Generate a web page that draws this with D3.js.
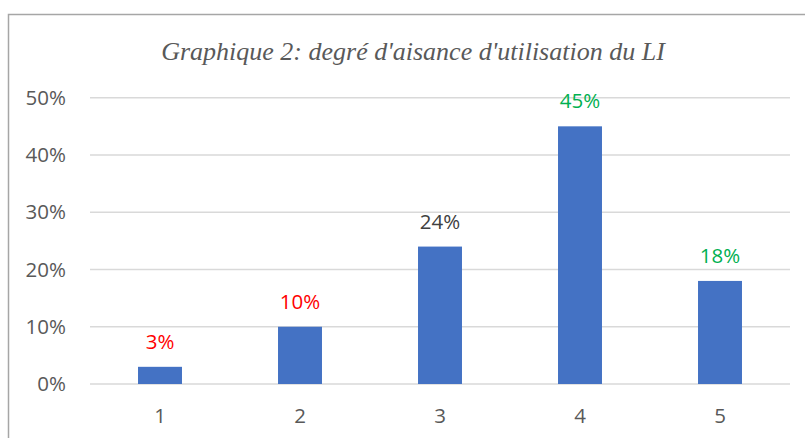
<!DOCTYPE html>
<html>
<head>
<meta charset="utf-8">
<script src="https://cdn.jsdelivr.net/npm/d3@7"></script>
<style>
  body { margin: 0; background: #fff; }
</style>
</head>
<body>
<div id="chart"></div>
<script>
var categories = ["1", "2", "3", "4", "5"];
var values = [0.03, 0.10, 0.24, 0.45, 0.18];
var labelColors = ["#ff0000", "#ff0000", "#404040", "#00b050", "#00b050"];
var yTicks = [0, 0.1, 0.2, 0.3, 0.4, 0.5];
var title = "Graphique 2: degré d'aisance d'utilisation du LI";

var width = 805,
    height = 438,
    fontSize = 20.5;

var svg = d3.select("#chart")
    .append("svg")
    .attr("width", width)
    .attr("height", height);

/* chart frame */
svg.append("path")
    .attr("d", "M8.5," + height + "V14.5H" + width)
    .attr("fill", "none")
    .attr("stroke", "#a6a6a6")
    .attr("stroke-width", 1.5);

svg.append("text")
    .attr("x", 413)
    .attr("y", 60)
    .attr("text-anchor", "middle")
    .attr("font-family", "'Liberation Serif', 'Times New Roman', serif")
    .attr("font-style", "italic")
    .attr("font-size", 26)
    .attr("fill", "#595959")
    .text(title);

var x = d3.scaleBand()
    .domain(categories)
    .range([90, 790])
    .paddingInner(0.686)
    .paddingOuter(0.343);

var y = d3.scaleLinear()
    .domain([0, 0.5])
    .range([384, 97.7]);

/* gridlines */
svg.append("g")
    .selectAll("line")
    .data(yTicks)
    .enter().append("line")
        .attr("x1", 90)
        .attr("x2", 790)
        .attr("y1", function(d) { return y(d); })
        .attr("y2", function(d) { return y(d); })
        .attr("stroke", "#d9d9d9")
        .attr("stroke-width", 1.5);

/* y axis labels */
var yAxis = svg.append("g")
    .attr("transform", "translate(66,0)")
    .call(d3.axisLeft(y).tickValues(yTicks).tickFormat(d3.format(".0%")).tickSize(0).tickPadding(0));
yAxis.select(".domain").remove();
yAxis.selectAll("text")
    .attr("font-family", "'Open Sans', sans-serif")
    .attr("font-size", fontSize)
    .attr("fill", "#595959");

/* x axis labels */
var xAxis = svg.append("g")
    .attr("transform", "translate(0,384)")
    .call(d3.axisBottom(x).tickSize(0).tickPadding(24.5));
xAxis.select(".domain").remove();
xAxis.selectAll("text")
    .attr("font-family", "'Open Sans', sans-serif")
    .attr("font-size", fontSize)
    .attr("fill", "#595959");

/* bars */
svg.append("g")
    .selectAll("rect")
    .data(values)
    .enter().append("rect")
        .attr("x", function(d, i) { return x(categories[i]); })
        .attr("y", function(d) { return y(d); })
        .attr("width", x.bandwidth())
        .attr("height", function(d) { return y(0) - y(d); })
        .attr("fill", "#4472c4");

/* value labels */
svg.append("g")
    .selectAll("text")
    .data(values)
    .enter().append("text")
        .attr("x", function(d, i) { return x(categories[i]) + x.bandwidth() / 2; })
        .attr("y", function(d) { return y(d) - 18; })
        .attr("text-anchor", "middle")
        .attr("font-family", "'Open Sans', sans-serif")
        .attr("font-size", fontSize)
        .attr("fill", function(d, i) { return labelColors[i]; })
        .text(function(d) { return d3.format(".0%")(d); });
</script>
</body>
</html>
